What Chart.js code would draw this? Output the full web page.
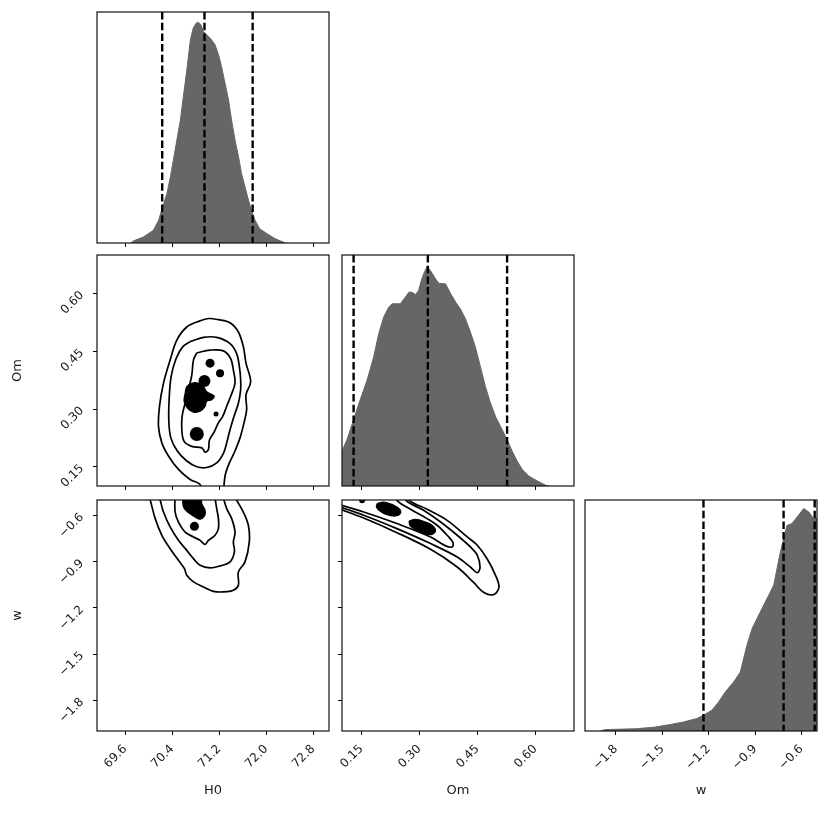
<!DOCTYPE html>
<html><head><meta charset="utf-8">
<script src="https://cdn.jsdelivr.net/npm/chart.js@4.4.1/dist/chart.umd.min.js"></script>
<style>
html,body{margin:0;padding:0;background:#fff;width:830px;height:827px;overflow:hidden;}
#wrap{position:relative;width:830px;height:827px;}
#wrap canvas{position:absolute;left:0;top:0;}
</style></head><body><div id="wrap"></div>
<script>
// ---------------- DATA ----------------
const PARAMS = ['H0', 'Om', 'w'];
const H0_RANGE = [69.12, 73.07];
const OM_RANGE = [0.10, 0.70];
const W_RANGE = [-2.0, -0.5];

const H0_TICKS = [69.6, 70.4, 71.2, 72.0, 72.8];
const H0_TICK_LABELS = ['69.6', '70.4', '71.2', '72.0', '72.8'];
const OM_TICKS = [0.15, 0.30, 0.45, 0.60];
const OM_TICK_LABELS = ['0.15', '0.30', '0.45', '0.60'];
const W_TICKS = [-1.8, -1.5, -1.2, -0.9, -0.6];
const W_TICK_LABELS = ['\u22121.8', '\u22121.5', '\u22121.2', '\u22120.9', '\u22120.6'];

// 1D marginal histograms (relative density)
const H0_HIST_X = [69.70, 69.74, 69.91, 70.08, 70.17, 70.22, 70.31, 70.37, 70.42, 70.48, 70.54, 70.59, 70.65, 70.71, 70.76, 70.81, 70.85, 70.89, 70.93, 70.99, 71.07, 71.13, 71.19, 71.24, 71.30, 71.36, 71.41, 71.47, 71.53, 71.58, 71.64, 71.70, 71.75, 71.81, 71.89, 72.01, 72.15, 72.29, 72.33];
const H0_HIST_Y = [0, 0.009, 0.026, 0.055, 0.099, 0.142, 0.214, 0.286, 0.359, 0.446, 0.533, 0.634, 0.750, 0.880, 0.931, 0.952, 0.955, 0.945, 0.916, 0.901, 0.880, 0.858, 0.815, 0.764, 0.692, 0.619, 0.533, 0.446, 0.373, 0.301, 0.243, 0.185, 0.142, 0.099, 0.062, 0.041, 0.019, 0.004, 0];

const OM_HIST_X = [0.100, 0.1016, 0.113, 0.130, 0.147, 0.165, 0.182, 0.195, 0.208, 0.221, 0.230, 0.251, 0.264, 0.273, 0.281, 0.290, 0.298, 0.305, 0.311, 0.320, 0.329, 0.342, 0.350, 0.368, 0.381, 0.394, 0.406, 0.419, 0.432, 0.445, 0.458, 0.471, 0.484, 0.497, 0.510, 0.527, 0.540, 0.553, 0.566, 0.583, 0.605, 0.627, 0.635];
const OM_HIST_Y = [0.151, 0.151, 0.201, 0.287, 0.373, 0.459, 0.559, 0.660, 0.732, 0.775, 0.789, 0.789, 0.818, 0.839, 0.839, 0.829, 0.846, 0.889, 0.918, 0.950, 0.932, 0.897, 0.878, 0.875, 0.832, 0.796, 0.767, 0.725, 0.667, 0.602, 0.516, 0.430, 0.359, 0.301, 0.258, 0.201, 0.151, 0.108, 0.072, 0.043, 0.022, 0.003, 0];

const W_HIST_X = [-1.90, -1.870, -1.665, -1.547, -1.449, -1.363, -1.277, -1.234, -1.180, -1.136, -1.093, -1.039, -0.996, -0.953, -0.920, -0.867, -0.813, -0.780, -0.737, -0.694, -0.662, -0.629, -0.586, -0.553, -0.521, -0.500];
const W_HIST_Y = [0, 0.006, 0.010, 0.017, 0.028, 0.039, 0.054, 0.068, 0.090, 0.126, 0.169, 0.212, 0.255, 0.371, 0.443, 0.515, 0.587, 0.631, 0.775, 0.890, 0.898, 0.926, 0.963, 0.948, 0.919, 0.920];

// quantiles (16%, 50%, 84%)
const H0_Q = [70.23, 70.95, 71.77];
const OM_Q = [0.130, 0.322, 0.527];
const W_Q = [-1.234, -0.716, -0.515];

// 2D contours: H0 vs Om
const H0_OM_C1 = [[70.932,0.074],[70.875,0.104],[70.705,0.117],[70.507,0.143],[70.337,0.178],[70.224,0.212],[70.167,0.255],[70.184,0.307],[70.252,0.367],[70.365,0.427],[70.479,0.479],[70.649,0.513],[70.875,0.529],[71.017,0.535],[71.187,0.532],[71.385,0.524],[71.527,0.500],[71.612,0.462],[71.657,0.419],[71.736,0.371],[71.657,0.337],[71.668,0.298],[71.623,0.264],[71.555,0.225],[71.470,0.191],[71.374,0.160],[71.300,0.126],[71.272,0.074]];
const H0_OM_C2 = [[70.705,0.475],[70.932,0.486],[71.158,0.486],[71.385,0.470],[71.498,0.444],[71.544,0.410],[71.566,0.376],[71.566,0.350],[71.527,0.315],[71.453,0.281],[71.385,0.246],[71.328,0.212],[71.272,0.185],[71.158,0.160],[70.988,0.148],[70.819,0.150],[70.649,0.165],[70.490,0.190],[70.377,0.225],[70.343,0.268],[70.348,0.324],[70.382,0.384],[70.467,0.431],[70.581,0.462],[70.705,0.475]];
const H0_OM_C3 = [[70.819,0.446],[71.045,0.453],[71.272,0.451],[71.396,0.431],[71.442,0.401],[71.470,0.367],[71.396,0.333],[71.328,0.307],[71.261,0.281],[71.187,0.264],[71.113,0.240],[71.034,0.219],[71.017,0.195],[70.960,0.188],[70.904,0.199],[70.734,0.203],[70.603,0.216],[70.564,0.246],[70.569,0.281],[70.620,0.315],[70.677,0.350],[70.734,0.388],[70.762,0.427],[70.819,0.446]];
const H0_OM_CORE = [[70.620,0.341],[70.649,0.358],[70.734,0.367],[70.847,0.367],[70.932,0.358],[70.988,0.345],[71.113,0.334],[71.073,0.324],[70.988,0.320],[70.960,0.307],[70.875,0.294],[70.762,0.292],[70.660,0.302],[70.603,0.320],[70.620,0.341]];
const H0_OM_SPOTS = [[71.045,0.419],[71.215,0.393],[70.949,0.373],[71.147,0.287],[70.819,0.235]];

// 2D contours: H0 vs w
const H0_W_C1 = [[71.413,-0.448],[71.611,-0.578],[71.697,-0.664],[71.713,-0.772],[71.640,-0.902],[71.527,-0.967],[71.527,-1.054],[71.442,-1.086],[71.272,-1.097],[71.102,-1.093],[70.932,-1.065],[70.762,-1.032],[70.649,-0.989],[70.609,-0.946],[70.507,-0.891],[70.365,-0.816],[70.224,-0.729],[70.111,-0.621],[70.026,-0.500],[69.980,-0.448]];
const H0_W_C2 = [[71.243,-0.448],[71.328,-0.556],[71.413,-0.621],[71.470,-0.708],[71.442,-0.772],[71.459,-0.837],[71.385,-0.902],[71.215,-0.928],[71.045,-0.941],[70.875,-0.924],[70.762,-0.881],[70.649,-0.827],[70.507,-0.762],[70.365,-0.675],[70.252,-0.578],[70.196,-0.500],[70.167,-0.448]];
const H0_W_C3 = [[71.113,-0.448],[71.158,-0.556],[71.187,-0.621],[71.187,-0.686],[71.130,-0.729],[71.017,-0.762],[70.960,-0.788],[70.875,-0.762],[70.762,-0.740],[70.620,-0.708],[70.507,-0.643],[70.450,-0.578],[70.450,-0.448]];
const H0_W_CORE = [[70.581,-0.448],[70.592,-0.545],[70.677,-0.582],[70.790,-0.610],[70.875,-0.625],[70.949,-0.604],[70.960,-0.567],[70.904,-0.524],[70.875,-0.448],[70.581,-0.448]];
const H0_W_SPOTS = [[70.779,-0.671]];

// 2D contours: Om vs w
const OM_W_C1 = [[0.0697,-0.534],[0.0870,-0.552],[0.156,-0.617],[0.242,-0.712],[0.329,-0.820],[0.398,-0.935],[0.441,-1.037],[0.467,-1.101],[0.493,-1.114],[0.506,-1.065],[0.497,-0.989],[0.476,-0.885],[0.450,-0.794],[0.424,-0.740],[0.372,-0.632],[0.320,-0.560],[0.277,-0.508],[0.260,-0.448]];
const OM_W_C2 = [[0.0697,-0.524],[0.156,-0.599],[0.242,-0.686],[0.329,-0.783],[0.398,-0.870],[0.432,-0.935],[0.450,-0.972],[0.457,-0.935],[0.450,-0.859],[0.432,-0.805],[0.398,-0.729],[0.355,-0.643],[0.311,-0.567],[0.268,-0.508],[0.251,-0.448]];
const OM_W_C3 = [[0.0697,-0.513],[0.156,-0.578],[0.242,-0.653],[0.329,-0.740],[0.368,-0.798],[0.385,-0.805],[0.387,-0.777],[0.372,-0.729],[0.346,-0.664],[0.320,-0.621],[0.277,-0.560],[0.242,-0.502],[0.234,-0.448]];
const OM_W_CORE1 = [[0.191,-0.524],[0.208,-0.513],[0.234,-0.534],[0.249,-0.560],[0.251,-0.588],[0.238,-0.604],[0.216,-0.595],[0.199,-0.573],[0.189,-0.545],[0.191,-0.524]];
const OM_W_CORE2 = [[0.273,-0.638],[0.290,-0.625],[0.316,-0.643],[0.333,-0.664],[0.342,-0.697],[0.333,-0.723],[0.316,-0.721],[0.294,-0.697],[0.277,-0.669],[0.273,-0.638]];
const OM_W_SPOTS = [[0.152,-0.502]];

// ---------------- LAYOUT / STYLE ----------------
const W = 830, H = 827;
const COL_L = [97, 342, 585], PW = 232;
const ROW_T = [12, 255, 500], PH = 231;
const FONT = 'DejaVu Sans';
const HIST_COLOR = '#666666';
const TEXT_COLOR = '#1a1a1a';

const AX = {
  H0: {range: H0_RANGE, ticks: H0_TICKS, labels: H0_TICK_LABELS},
  Om: {range: OM_RANGE, ticks: OM_TICKS, labels: OM_TICK_LABELS},
  w:  {range: W_RANGE,  ticks: W_TICKS,  labels: W_TICK_LABELS}
};

const framePlugin = {
  id: 'frame',
  afterDatasetsDraw(chart, args, o) {
    const {ctx, chartArea: a, scales} = chart;
    ctx.save();
    if (o.quantiles) {
      ctx.beginPath(); ctx.rect(a.left, a.top, a.width, a.height); ctx.clip();
      ctx.setLineDash([7.5, 3.2]);
      ctx.lineWidth = 2.4;
      ctx.strokeStyle = '#000';
      o.quantiles.forEach(q => {
        const x = scales.x.getPixelForValue(q);
        ctx.beginPath(); ctx.moveTo(x, a.top); ctx.lineTo(x, a.bottom); ctx.stroke();
      });
    }
    ctx.restore();
    ctx.save();
    ctx.setLineDash([]);
    ctx.lineWidth = 1.2;
    ctx.strokeStyle = '#111';
    ctx.strokeRect(a.left, a.top, a.width, a.height);
    ctx.restore();
  }
};

function xScale(key, showLabels) {
  const ax = AX[key];
  return {
    type: 'linear', position: 'bottom', min: ax.range[0], max: ax.range[1],
    afterBuildTicks: s => { s.ticks = ax.ticks.map(v => ({value: v})); },
    afterFit: s => { s.height = showLabels ? 70 : 4; },
    grid: {display: true, drawOnChartArea: false, drawTicks: true, tickLength: 4, color: '#000', lineWidth: 1},
    border: {display: false},
    ticks: {display: showLabels, minRotation: 45, maxRotation: 45, padding: 7, autoSkip: false,
            font: {family: FONT, size: 12}, color: TEXT_COLOR,
            callback: (v, i) => ax.labels[i]},
    title: {display: showLabels, text: key, color: TEXT_COLOR, font: {family: FONT, size: 13},
            padding: {top: 0, bottom: 3}}
  };
}
function yScale(key, show, showLabels) {
  const ax = AX[key];
  return {
    type: 'linear', position: 'left', min: ax.range[0], max: ax.range[1], display: show,
    afterBuildTicks: s => { s.ticks = ax.ticks.map(v => ({value: v})); },
    afterFit: s => { s.width = showLabels ? 97 : 4; },
    grid: {display: true, drawOnChartArea: false, drawTicks: true, tickLength: 4, color: '#000', lineWidth: 1},
    border: {display: false},
    ticks: {display: showLabels, minRotation: 45, maxRotation: 45, padding: 11, autoSkip: false,
            font: {family: FONT, size: 12}, color: TEXT_COLOR,
            callback: (v, i) => ax.labels[i]},
    title: {display: showLabels, text: key, color: TEXT_COLOR, font: {family: FONT, size: 13},
            padding: {top: 10, bottom: 0}}
  };
}

function makeCanvas() {
  const c = document.createElement('canvas');
  c.width = W; c.height = H;
  c.style.width = W + 'px'; c.style.height = H + 'px';
  document.getElementById('wrap').appendChild(c);
  return c;
}

function panel(row, col, xKey, yKey, datasets, quantiles) {
  const bottomRow = row === 2;
  const yShown = yKey !== null;
  const yLabels = yShown && col === 0;
  const yW = yShown ? (yLabels ? 97 : 4) : 0;
  const xH = bottomRow ? 70 : 4;
  const left = COL_L[col], top = ROW_T[row];
  const y = yShown ? yScale(yKey, true, yLabels)
                   : {type: 'linear', display: false, min: 0, max: 1};
  new Chart(makeCanvas(), {
    type: 'scatter',
    data: {datasets},
    options: {
      responsive: false, animation: false, devicePixelRatio: 1,
      layout: {padding: {left: left - yW, top: top, right: W - (left + PW), bottom: H - (top + PH) - xH}},
      scales: {x: xScale(xKey, bottomRow), y},
      plugins: {legend: {display: false}, tooltip: {enabled: false}, frame: {quantiles}}
    },
    plugins: [framePlugin]
  });
}

const pts = arr => arr.map(([x, y]) => ({x, y}));
const zip = (xs, ys) => xs.map((x, i) => ({x, y: ys[i]}));

function hist(xs, ys) {
  return {data: zip(xs, ys), showLine: true, borderWidth: 1, borderColor: HIST_COLOR,
          backgroundColor: HIST_COLOR, fill: 'origin', pointRadius: 0, tension: 0};
}
function contour(arr) {
  return {data: pts(arr), showLine: true, borderColor: '#000', borderWidth: 1.7,
          pointRadius: 0, fill: false, tension: 0.35};
}
function core(arr) {
  return {data: pts(arr), showLine: true, borderColor: '#000', borderWidth: 1.2,
          backgroundColor: '#000', pointRadius: 0, fill: 'shape', tension: 0.4};
}
function spots(arr, radii) {
  return {data: pts(arr), showLine: false, pointRadius: radii, pointBackgroundColor: '#000',
          pointBorderColor: '#000', pointBorderWidth: 0};
}

// diagonal
panel(0, 0, 'H0', null, [hist(H0_HIST_X, H0_HIST_Y)], H0_Q);
panel(1, 1, 'Om', null, [hist(OM_HIST_X, OM_HIST_Y)], OM_Q);
panel(2, 2, 'w', null, [hist(W_HIST_X, W_HIST_Y)], W_Q);
// off-diagonal
panel(1, 0, 'H0', 'Om', [contour(H0_OM_C1), contour(H0_OM_C2), contour(H0_OM_C3), core(H0_OM_CORE), spots(H0_OM_SPOTS, [4.5, 4, 6, 2.5, 7])]);
panel(2, 0, 'H0', 'w', [contour(H0_W_C1), contour(H0_W_C2), contour(H0_W_C3), core(H0_W_CORE), spots(H0_W_SPOTS, [4.5])]);
panel(2, 1, 'Om', 'w', [contour(OM_W_C1), contour(OM_W_C2), contour(OM_W_C3), core(OM_W_CORE1), core(OM_W_CORE2), spots(OM_W_SPOTS, [3])]);
</script></body></html>
